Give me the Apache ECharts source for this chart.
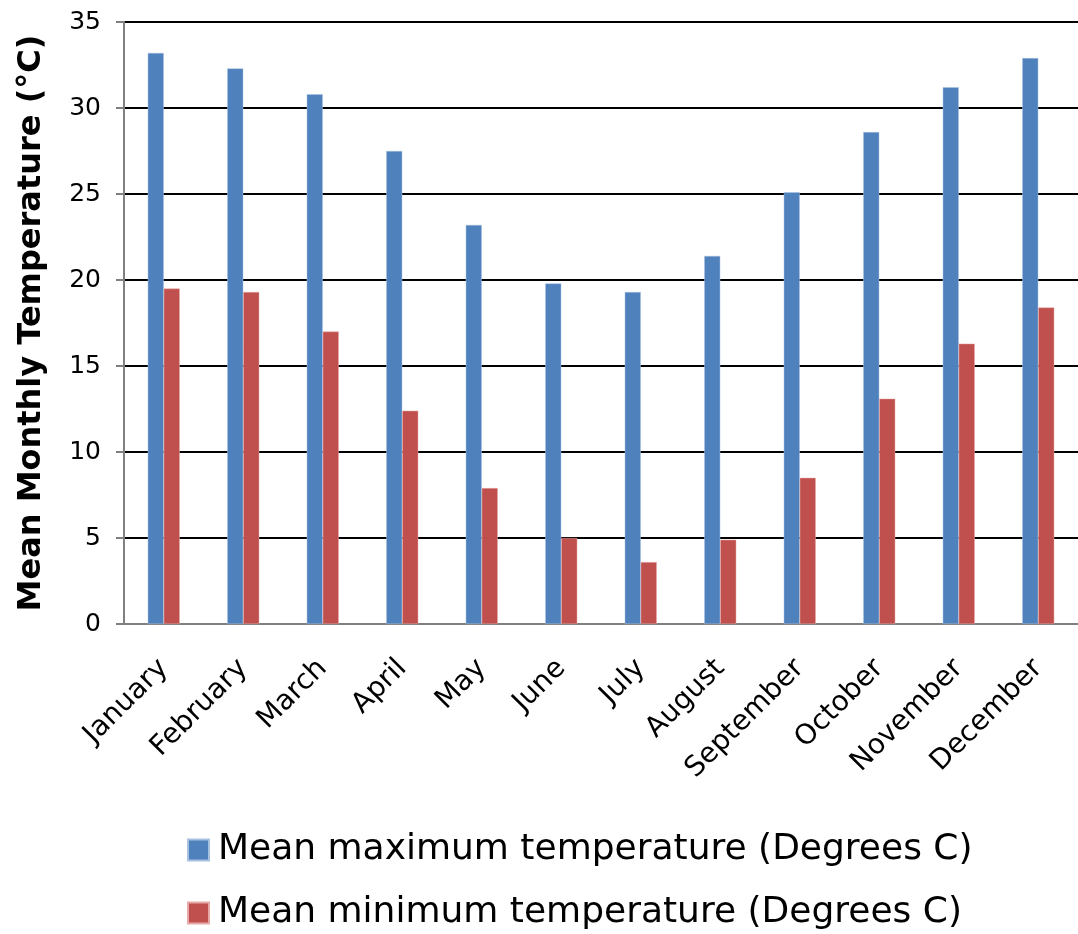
<!DOCTYPE html>
<html>
<head>
<meta charset="utf-8">
<script src="https://cdn.jsdelivr.net/npm/echarts@6/dist/echarts.min.js"></script>
<style>
  html, body { margin: 0; padding: 0; background: #ffffff; }
  #chart { width: 1078px; height: 934px; }
</style>
</head>
<body>
<div id="chart"></div>
<script>
// Monthly temperature climatology
const months = ['January', 'February', 'March', 'April', 'May', 'June',
  'July', 'August', 'September', 'October', 'November', 'December'];
const meanMax = [33.2, 32.3, 30.8, 27.5, 23.2, 19.8, 19.3, 21.4, 25.1, 28.6, 31.2, 32.9];
const meanMin = [19.5, 19.3, 17.0, 12.4, 7.9, 5.0, 3.6, 4.9, 8.5, 13.1, 16.3, 18.4];
const seriesNames = ['Mean maximum temperature (Degrees C)', 'Mean minimum temperature (Degrees C)'];
const yAxisTitle = 'Mean Monthly Temperature (°C)';

const FONT = 'DejaVu Sans';

// one legend block per series, stacked below the chart
function legendRow(name, top) {
  return {
    left: 182,
    top: top,
    itemWidth: 21,
    itemHeight: 21,
    icon: 'rect',
    textStyle: { fontFamily: FONT, fontSize: 36, color: '#000', padding: [0, 0, 0, 4] },
    data: [name]
  };
}

const chart = echarts.init(document.getElementById('chart'), null, { renderer: 'canvas' });
chart.setOption({
  animation: false,
  backgroundColor: '#ffffff',
  textStyle: { fontFamily: FONT, color: '#000' },
  grid: { left: 124, top: 22, right: -6, bottom: 310, containLabel: false },
  legend: [legendRow(seriesNames[0], 827), legendRow(seriesNames[1], 890)],
  xAxis: {
    type: 'category',
    data: months,
    axisLine: { lineStyle: { color: '#808080', width: 2 } },
    axisTick: { show: false },
    axisLabel: {
      interval: 0,
      rotate: 45,
      fontFamily: FONT,
      fontSize: 28,
      color: '#000',
      margin: 40
    }
  },
  yAxis: {
    type: 'value',
    min: 0,
    max: 35,
    interval: 5,
    name: yAxisTitle,
    nameLocation: 'middle',
    nameGap: 76,
    nameTextStyle: { fontFamily: FONT, fontSize: 32, fontWeight: 'bold', color: '#000' },
    axisLine: { show: true, lineStyle: { color: '#808080', width: 2 } },
    axisTick: { show: true, length: 8, lineStyle: { color: '#808080', width: 2 } },
    axisLabel: { fontFamily: FONT, fontSize: 25, color: '#000', margin: 23 },
    splitLine: { lineStyle: { color: '#000', width: 2 } }
  },
  series: [
    {
      name: seriesNames[0],
      type: 'bar',
      data: meanMax,
      barWidth: 16,
      barGap: '0%',
      itemStyle: { color: '#4F81BD', borderColor: '#A9C1E0', borderWidth: 0.5 }
    },
    {
      name: seriesNames[1],
      type: 'bar',
      data: meanMin,
      barWidth: 16,
      barGap: '0%',
      itemStyle: { color: '#C0504D', borderColor: '#E6A9A7', borderWidth: 0.5 }
    }
  ]
});
</script>
</body>
</html>
